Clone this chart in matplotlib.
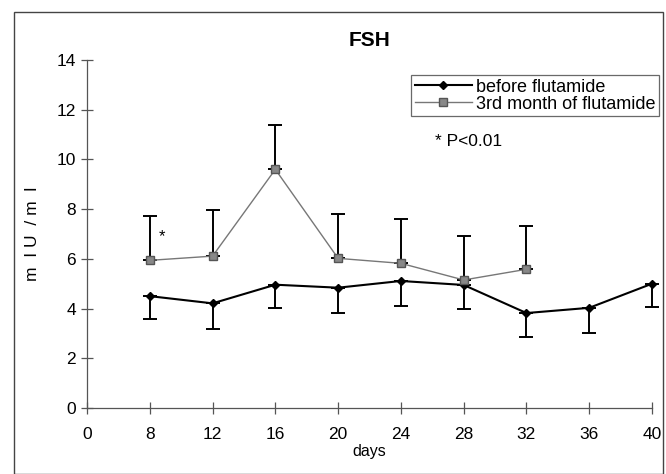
import matplotlib
matplotlib.use("Agg")
import matplotlib.pyplot as plt
from matplotlib.patches import Rectangle
import numpy as np

plt.rcParams['font.family'] = ['Liberation Sans', 'DejaVu Sans']

days_labels = ["0", "8", "12", "16", "20", "24", "28", "32", "36", "40"]
before_days = ["8", "12", "16", "20", "24", "28", "32", "36", "40"]
before_mean = [4.5, 4.21, 4.96, 4.84, 5.11, 4.95, 3.82, 4.03, 5.0]
before_lower = [3.58, 3.18, 4.02, 3.82, 4.1, 3.98, 2.87, 3.03, 4.06]
third_days = ["8", "12", "16", "20", "24", "28", "32"]
third_mean = [5.94, 6.11, 9.6, 6.02, 5.82, 5.15, 5.58]
third_upper = [7.72, 7.95, 11.38, 7.8, 7.6, 6.92, 7.33]

pos = {lab: i for i, lab in enumerate(days_labels)}
bx = np.array([pos[d] for d in before_days])
tx = np.array([pos[d] for d in third_days])
bm = np.array(before_mean)
tm = np.array(third_mean)

fig = plt.figure(figsize=(6.66, 4.74), dpi=100)
ax = fig.add_axes([87/666, 1-408/474, (652-87)/666, (408-60)/474])

# frame around the figure
fig.patches.append(Rectangle((14/666, 0), (663-14)/666, 1-12/474, transform=fig.transFigure,
                             fill=False, edgecolor='#444444', linewidth=1.0))

# error bars
eb1 = ax.errorbar(bx, bm, yerr=[bm - np.array(before_lower), np.zeros_like(bm)], fmt='none',
                  ecolor='black', elinewidth=1.4, capsize=5, capthick=1.4, zorder=2)
eb2 = ax.errorbar(tx, tm, yerr=[np.zeros_like(tm), np.array(third_upper) - tm], fmt='none',
                  ecolor='black', elinewidth=1.4, capsize=5, capthick=1.4, zorder=2)
for eb in (eb1, eb2):
    for art in eb.lines[1]:
        art.set_clip_on(False)
    for art in eb.lines[2]:
        art.set_clip_on(False)

ax.plot(bx, bm, color='black', linewidth=1.5, marker='D', markersize=4.5,
        markerfacecolor='black', markeredgecolor='black', label='before flutamide', zorder=3,
        clip_on=False)
ax.plot(tx, tm, color='#777777', linewidth=1.0, marker='s', markersize=6,
        markerfacecolor='#888888', markeredgecolor='#555555', label='3rd month of flutamide', zorder=3,
        clip_on=False)

ax.set_xlim(0, 9)
ax.set_ylim(0, 14)
ax.set_xticks(range(len(days_labels)))
ax.set_xticklabels(days_labels)
ax.set_yticks(np.arange(0, 15, 2))
for s in ['top', 'right']:
    ax.spines[s].set_visible(False)
for s in ['left', 'bottom']:
    ax.spines[s].set_color('#555555')
    ax.spines[s].set_linewidth(0.9)
ax.tick_params(axis='both', direction='inout', length=8, width=0.9, color='#555555',
               labelsize=12.5, pad=4)
ax.tick_params(axis='x', pad=10)

ax.set_title('FSH', fontsize=15, fontweight='bold', pad=10)
ax.set_xlabel('days', fontsize=11.5, labelpad=1)
ax.set_ylabel('m  I U  / m  l', fontsize=12.5, labelpad=12)

leg = ax.legend(loc='upper right', bbox_to_anchor=(659/666, 1-75/474), bbox_transform=fig.transFigure,
                fontsize=13, frameon=True, fancybox=False, edgecolor='#444444',
                handlelength=3.2, handletextpad=0.2, borderpad=0.2, labelspacing=0.0,
                borderaxespad=0)
leg.get_frame().set_linewidth(0.9)

ax.text(1.2, 6.9, '*', fontsize=12, ha='center', va='center')
ax.text(435/666, 1-142/474, '* P<0.01', transform=fig.transFigure, fontsize=12.5,
        ha='left', va='center')

fig.savefig('out.png', dpi=100)
